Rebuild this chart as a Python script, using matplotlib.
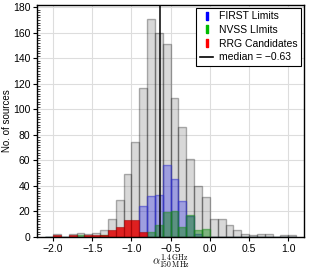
import numpy as np
import matplotlib
matplotlib.use("Agg")
import matplotlib.pyplot as plt
from matplotlib.lines import Line2D
from matplotlib.ticker import MultipleLocator

plt.rcParams['mathtext.fontset'] = 'cm'
plt.rcParams['font.family'] = ['Liberation Sans', 'DejaVu Sans']

# bin edges: -2.1 .. 1.1 step 0.1
bin_edges = np.round(np.arange(-2.1, 1.1001, 0.1), 2)

all_counts = [0, 2, 0, 2, 3, 2, 3, 5, 14, 29, 49, 74, 117, 171, 160, 151,
              109, 86, 61, 40, 31, 14, 14, 9, 5, 2, 1, 2, 2, 0, 1, 1]
first_counts = [0, 0, 0, 0, 0, 0, 0, 0, 0, 0, 0, 0, 24, 32, 33, 56,
                45, 28, 16, 2, 0, 0, 0, 0, 0, 0, 0, 0, 0, 0, 0, 0]
nvss_counts = [0, 0, 0, 0, 1, 0, 0, 1, 0, 0, 0, 0, 0, 4, 9, 19,
               20, 8, 17, 5, 6, 0, 0, 0, 0, 0, 0, 0, 0, 0, 0, 0]
rrg_counts = [0, 1, 0, 1, 0, 1, 1, 1, 5, 8, 13, 13, 4, 0, 0, 0,
              0, 0, 0, 0, 0, 0, 0, 0, 0, 0, 0, 0, 0, 0, 0, 0]
median_value = -0.63

legend_labels = ['FIRST Limits', 'NVSS LImits', 'RRG Candidates',
                 'median = \u22120.63']

centers = (bin_edges[:-1] + bin_edges[1:]) / 2

fig = plt.figure(figsize=(3.14, 2.69), dpi=100)
ax = fig.add_axes([0.119, 0.12, 0.849, 0.8625])
ax.set_axisbelow(True)
ax.grid(True, color='#dddddd', lw=0.8)

ax.hist(centers, bins=bin_edges, weights=all_counts,
        facecolor=(0.5, 0.5, 0.5, 0.3), edgecolor=(0, 0, 0, 0.3), lw=1.0)
ax.hist(centers, bins=bin_edges, weights=first_counts,
        facecolor=(0.1, 0.1, 0.95, 0.3), edgecolor=(0.2, 0.2, 0.8, 0.55), lw=1.0)
ax.hist(centers, bins=bin_edges, weights=nvss_counts,
        facecolor=(0.0, 0.5, 0.0, 0.42), edgecolor=(0.1, 0.55, 0.1, 0.5), lw=1.0)
ax.hist(centers, bins=bin_edges, weights=rrg_counts,
        facecolor=(0.88, 0.0, 0.0, 0.85), edgecolor=(0.6, 0.0, 0.0, 0.5), lw=0.8)
ax.axvline(median_value, color='black', lw=1.1)

ax.set_xlim(-2.2, 1.2)
ax.set_ylim(0, 182)
ax.xaxis.set_major_locator(MultipleLocator(0.5))
ax.yaxis.set_major_locator(MultipleLocator(20))
ax.yaxis.set_minor_locator(MultipleLocator(2))
ax.tick_params(axis='both', which='major', labelsize=7.5, length=3, width=0.8, pad=2)
ax.tick_params(axis='y', which='minor', direction='in', length=2, width=0.5)
for s in ax.spines.values():
    s.set_linewidth(1.0)
    s.set_color('black')

ax.set_ylabel('No. of sources', fontsize=7, va='center')
ax.yaxis.set_label_coords(-0.115, 0.5)
ax.set_xlabel(r'$\alpha^{1.4\,\mathrm{GHz}}_{150\,\mathrm{MHz}}$', fontsize=8, va='center')
ax.xaxis.set_label_coords(0.5, -0.107)

rect = [(-0.35, -1), (0.35, -1), (0.35, 1), (-0.35, 1), (-0.35, -1)]
handles = [
    Line2D([], [], marker=rect, ms=6, ls='none', color='#0000ff'),
    Line2D([], [], marker=rect, ms=6, ls='none', color='#00bb00'),
    Line2D([], [], marker=rect, ms=6, ls='none', color='#ff0000'),
    Line2D([], [], color='black', lw=1.2),
]
leg = ax.legend(handles, legend_labels, loc='upper right', fontsize=7.5,
                frameon=True, fancybox=False, edgecolor='black', framealpha=1,
                handlelength=1.3, handletextpad=0.5, borderpad=0.35,
                labelspacing=0.35, borderaxespad=0.3)
leg.get_frame().set_linewidth(0.8)

fig.savefig('out.png', dpi=100)
